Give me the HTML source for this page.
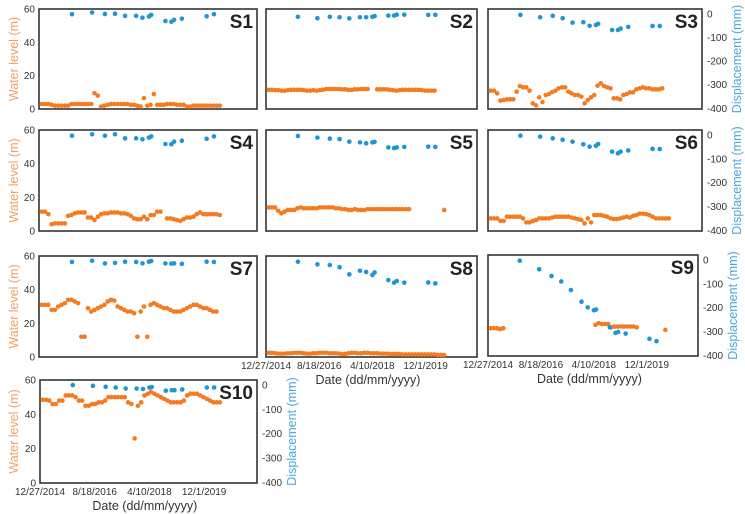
<!DOCTYPE html>
<html><head><meta charset="utf-8">
<style>
html,body{margin:0;padding:0;background:#fff;}
svg{display:block;font-family:"Liberation Sans",Arial,sans-serif;}
</style></head>
<body>
<svg id="chart" width="745" height="514" viewBox="0 0 745 514" xmlns="http://www.w3.org/2000/svg"></svg>
<script>
// x values: days since 12/27/2014
const waterDates = [30,66,102,138,174,210,246,282,318,354,390,426,462,498,534,570,606,642,678,714,750,786,822,858,894,930,966,1002,1038,1074,1110,1146,1182,1218,1254,1290,1326,1362,1398,1434,1470,1506,1542,1578,1614,1650,1686,1722,1758,1794,1830,1866,1902,1938,1974,2010];
const dispDates = [360,580,720,830,940,1060,1130,1200,1225,1380,1445,1475,1560,1830,1910];
const xTickValues = [0,600,1200,1800];
const xTickLabels = ["12/27/2014","8/18/2016","4/10/2018","12/1/2019"];
const waterTicks = [0,20,40,60];
const dispTicks = [0,-100,-200,-300,-400];

const s1Water = [3,3,3,2.5,2,2,2,2,2,3,3,3,3,3,3,3,9.5,8,1.5,2,2.5,3,3,3,3,3,3,2.5,2.5,2,1.5,6.5,2,2.5,9,2.5,2.5,2.5,3,3,3,2.5,2.5,2.5,1.5,1.5,2,2,2,2,2,2,2,2,2,null];
const s2Water = [11.5,11.5,11.3,11.3,11,11,11.3,11.5,11.5,11.5,11.5,11.3,11,11,11.3,11,11.3,11.5,12,12,12,12,12,11.8,11.8,11.5,11.5,11.8,11.8,12,12,12,null,null,11.8,11.8,11.8,11.8,11.5,11.3,11,11.3,11.5,11.5,11.5,11.5,11.5,11.5,11.3,11,11,11,11,null,null,null];
const s3Water = [11,11,9.4,5,5.4,5.8,5.8,5.8,10.4,13.8,13,13,11,3.4,2.2,7,4.2,8.4,9,10.2,11,12.4,13,13,10.4,9.4,8.4,8.4,7.4,3.4,5.4,7,8.4,14,15.4,13.8,13,12.4,6.4,6.4,5.8,8.4,9,10,10,11.8,12.4,13,12.4,12.4,11.8,11.8,11.8,12.4,null,null];
const s4Water = [11.5,11.5,10,4,4.5,4.5,4.5,4.5,9,9.5,10.5,11,11,11,8,8,6.5,8.5,10,10.5,10.5,11,11,11,10.5,10.5,10,9,7.5,7,7,8.5,7,9.5,9.5,11.5,11.5,null,7.5,7.5,7,6.5,6,7,8,8,8.5,10,11,10,10,10,10,10,9.5,null];
const s5Water = [14,14,14,12,10.5,11.5,12.5,12.5,12.5,13.5,14,13.5,13.5,13.5,13.5,13.5,14,14,14,14,14,13.5,13.5,13,13,12.5,12.5,13,12.5,12.5,12.5,13,13,13,13,13,13,13,13,13,13,13,13,13,13,null,null,null,null,null,null,null,null,null,null,12.5];
const s6Water = [7.5,7.5,7.5,6,6,8.5,8.5,8.5,8.5,8.5,7.5,5.1,5.1,5.9,6.5,7.5,7.5,7.5,7.5,8,8.5,8.5,8.5,8.5,8.5,8,7.5,7,6.5,4.5,7.5,5.1,9.5,9.5,9.5,9,8.5,7.5,7.1,7.1,7.5,8,8.5,8,9,9.5,10.3,10.3,10,9.5,8.5,7.5,7.5,7.5,7.5,7.5];
const s7Water = [31,31,31,28,28,30,31,32,34,34,33,32,12,12,29,27,28,29,30,31,33,34,33.5,30,29,28,27,27,26,12,27,30,12,31,32,31,30,29,29,28,27,27,27,28,29,30,31,31,30,29,29,28,27,27,null,null];
const s8Water = [2.5,2.5,2.2,2,2,2,2.2,2.2,2.5,2.5,2.5,2.2,2,2,2.2,2.2,2.5,2.5,2.5,2.2,2.2,2.2,2,1.8,1.8,2.2,2.5,2.5,2.2,2.2,2.5,2.5,2.2,2.2,2.2,2,2,2,1.8,1.8,1.8,1.8,1.5,1.5,1.5,1.5,1.5,1.5,1.5,1.5,1.5,1.5,1.5,1.2,1.2,1.2];
const s9Water = [16.5,16.5,16.5,16,16.5,null,null,null,null,null,null,null,null,null,null,null,null,null,null,null,null,null,null,null,null,null,null,null,null,null,null,null,null,18.5,19.5,19,19,19,17,17.5,17.5,17.5,17.5,17.5,17.5,17.5,17,null,null,null,null,null,null,null,null,15.5];
const s10Water = [48.5,48.5,48,46,46,48,48,51,51,51,50,48,48,45,45,46,46,47,47,48,50,50,50,50,50,50,47,46,26,45,47,51,52,53,52,51,50,49,48,47,47,47,47,48,51,52,52,52,51,50,49,48,47,47,47,null];

const s1Disp = [-1,6,0,1,-8,-8,-16,-11,-4,-30,-33,-25,-20,-10,-1];
const s2Disp = [-12,-18,-12,-14,-19,-14,-14,-12,-9,-7,-7,-3,-3,-4,-4];
const s3Disp = [-4,-14,-8,-18,-37,-35,-50,-47,-42,-68,-68,-62,-55,-51,-51];
const s4Disp = [-3,3,-3,3,-14,-14,-18,-11,-6,-38,-39,-28,-24,-16,-6];
const s5Disp = [-4,-11,-15,-17,-28,-31,-35,-31,-29,-52,-55,-52,-50,-49,-50];
const s6Disp = [-3,-7,-14,-20,-28,-39,-49,-45,-38,-70,-77,-70,-65,-58,-59];
const s7Disp = [-4,1,-10,-8,-3,-4,-10,-3,0,-10,-11,-10,-12,-3,-4];
const s8Disp = [-3,-14,-17,-26,-56,-41,-46,-59,-48,-80,-91,-84,-91,-90,-94];
const s9Disp = [-3,-39,-67,-90,-126,-175,-199,-211,-208,-283,-306,-302,-309,-331,-341];
const s10Disp = [0,-3,-7,-10,-14,-14,-16,-10,-8,-23,-21,-21,-18,-10,-10];

const NS = "http://www.w3.org/2000/svg";
const svg = document.getElementById('chart');
function mk(tag, attrs, parent, text){
  const e = document.createElementNS(NS, tag);
  for (const k in attrs) e.setAttribute(k, attrs[k]);
  if (text !== undefined) e.textContent = text;
  (parent || svg).appendChild(e);
  return e;
}
const ORANGE = "#f47b20", BLUE = "#1e96d2";
const panels = [
  {id:"S1", x:39, y:9, w:218, h:100, left:true, right:false, xax:false, water:s1Water, disp:s1Disp},
  {id:"S2", x:266, y:9, w:211, h:100, left:false, right:false, xax:false, water:s2Water, disp:s2Disp},
  {id:"S3", x:488, y:9, w:214, h:100, left:false, right:true, xax:false, water:s3Water, disp:s3Disp},
  {id:"S4", x:39, y:130, w:218, h:101, left:true, right:false, xax:false, water:s4Water, disp:s4Disp},
  {id:"S5", x:266, y:130, w:211, h:101, left:false, right:false, xax:false, water:s5Water, disp:s5Disp},
  {id:"S6", x:488, y:130, w:214, h:101, left:false, right:true, xax:false, water:s6Water, disp:s6Disp},
  {id:"S7", x:39, y:256, w:218, h:101, left:true, right:false, xax:false, water:s7Water, disp:s7Disp},
  {id:"S8", x:266, y:256, w:211, h:101, left:false, right:false, xax:true, water:s8Water, disp:s8Disp},
  {id:"S9", x:488, y:255, w:210, h:101, left:false, right:true, xax:true, water:s9Water, disp:s9Disp},
  {id:"S10", x:40, y:380, w:217, h:103, left:true, right:true, xax:true, water:s10Water, disp:s10Disp}
];
const X_MAX = 2380, W_MIN = 0, W_MAX = 60, D_MIN = -403, D_MAX = 21;

panels.forEach(p => {
  const g = mk('g', {});
  
  
  const sx = d => p.x + d / X_MAX * p.w;
  const syW = v => p.y + p.h - (v - W_MIN) / (W_MAX - W_MIN) * p.h;
  const syD = v => p.y + p.h - (v - D_MIN) / (D_MAX - D_MIN) * p.h;

  const frame = mk('rect', {x:p.x, y:p.y, width:p.w, height:p.h, fill:'none', stroke:'#333', 'stroke-width':1.6}, g);
  
  

  const lab = mk('text', {x:p.x + p.w - 4, y:p.y + 19, 'text-anchor':'end', 'font-size':19, 'font-weight':'bold', fill:'#222'}, g, p.id);
  
  

  p.water.forEach((v, i) => {
    if (v === null || v === undefined) return;
    const c = mk('circle', {cx:sx(waterDates[i]), cy:syW(v), r:2.3, fill:ORANGE}, g);
    
    
  });
  p.disp.forEach((v, i) => {
    const c = mk('circle', {cx:sx(dispDates[i]), cy:syD(v), r:2.3, fill:BLUE}, g);
    
    
  });

  if (p.left) {
    waterTicks.forEach(t => {
      const e = mk('text', {x:p.x - 4, y:syW(t) + 3.5, 'text-anchor':'end', 'font-size':10, fill:'#333'}, g, String(t));
      
      
    });
    const cy = p.y + p.h / 2;
    const tt = mk('text', {x:18, y:cy, 'text-anchor':'middle', 'font-size':12.5, fill:'#f2a064', transform:'rotate(-90 18 ' + cy + ')'}, g, 'Water level (m)');
    
    
  }
  if (p.right) {
    dispTicks.forEach(t => {
      const e = mk('text', {x:p.x + p.w + 5, y:syD(t) + 3.5, 'text-anchor':'start', 'font-size':10, fill:'#333'}, g, String(t));
      
      
    });
    const cy = p.y + p.h / 2;
    const rx = p.x + p.w + 39;
    const tt = mk('text', {x:rx, y:cy, 'text-anchor':'middle', 'font-size':12.5, fill:'#4aa8dc', transform:'rotate(-90 ' + rx + ' ' + cy + ')'}, g, 'Displacement (mm)');
    
    
  }
  if (p.xax) {
    xTickValues.forEach((t, i) => {
      const e = mk('text', {x:sx(t), y:p.y + p.h + 12, 'text-anchor':'middle', 'font-size':10, fill:'#333'}, g, xTickLabels[i]);
      
      
    });
    const xt = mk('text', {x:sx(1150), y:p.y + p.h + 27, 'text-anchor':'middle', 'font-size':12.5, fill:'#333'}, g, 'Date (dd/mm/yyyy)');
    
    
  }
});
</script>
</body></html>
